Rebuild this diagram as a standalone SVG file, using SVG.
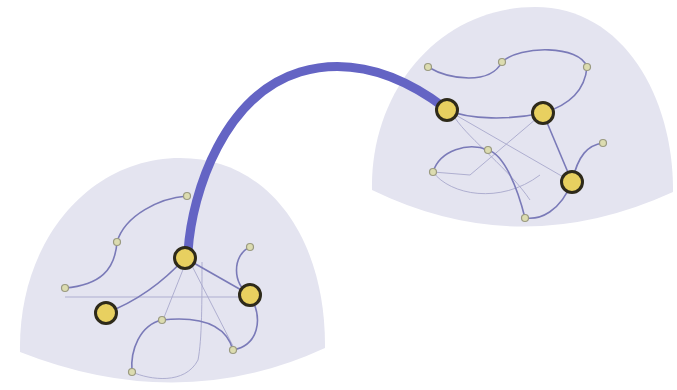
<svg xmlns="http://www.w3.org/2000/svg" width="677" height="390" viewBox="0 0 677 390">
<style>
.dome{fill:#e4e4f0;stroke:none}
.e{fill:none;stroke:#7a7ab8;stroke-width:1.6}
.t{fill:none;stroke:#a8a8cc;stroke-width:0.9}
.big{fill:#e8d060;stroke:#2e2a1a;stroke-width:3}
.sm{fill:#dcdcb0;stroke:#9a9a80;stroke-width:1.2}
.bridge{fill:none;stroke:#6464c4;stroke-width:9;stroke-linecap:round}
</style>
<rect width="677" height="390" fill="#ffffff"/>
<g id="dome-left"><path class="dome" d="M20 352 C18 240 90 158 180 158 C270 158 326 240 325 348 Q180 415 20 352 Z"/></g>
<g id="dome-right"><path class="dome" d="M372 190 C370 90 440 7 535 7 C625 7 674 100 673 192 Q520 262 372 190 Z"/></g>
<g id="connectors">
<path class="t" d="M65 297 L250 297"/>
<path class="t" d="M186 262 L163 320"/>
<path class="t" d="M202 262 C202 300 202 340 198 360 C185 385 150 380 132 372"/>
<path class="t" d="M190 262 L235 350"/>
<path class="e" d="M65 288 C100 285 115 270 117 242 C125 215 160 198 187 196"/>
<path class="e" d="M106 313 C140 300 165 280 185 258"/>
<path class="e" d="M185 258 L250 295"/>
<path class="e" d="M250 247 C232 255 232 285 250 295"/>
<path class="e" d="M250 295 C264 320 258 345 233 350"/>
<path class="e" d="M162 320 C200 316 226 325 233 350"/>
<path class="e" d="M162 320 C140 325 130 350 132 372"/>
<path class="t" d="M447 110 L572 182"/>
<path class="t" d="M543 113 L470 175 L433 172"/>
<path class="t" d="M455 118 C470 140 510 170 530 200"/>
<path class="t" d="M433 172 C450 195 500 205 540 175"/>
<path class="e" d="M428 67 C450 80 490 85 502 62"/>
<path class="e" d="M502 62 C520 45 580 45 587 67"/>
<path class="e" d="M587 67 C585 90 570 105 543 113"/>
<path class="e" d="M447 110 C470 120 510 120 543 113"/>
<path class="e" d="M543 113 L572 182"/>
<path class="e" d="M603 143 C588 145 578 155 572 182"/>
<path class="e" d="M572 182 C560 212 540 220 525 218"/>
<path class="e" d="M525 218 C518 190 505 155 488 150 C468 142 440 150 433 172"/>
<path class="bridge" d="M188 252 C192 190 225 95 300 72 C355 56 405 78 445 108"/>
</g>
<g id="node-l1"><circle class="big" cx="185" cy="258" r="10.5"/></g>
<g id="node-l2"><circle class="big" cx="106" cy="313" r="10.5"/></g>
<g id="node-l3"><circle class="big" cx="250" cy="295" r="10.5"/></g>
<g id="node-l4"><circle class="sm" cx="187" cy="196" r="3.5"/></g>
<g id="node-l5"><circle class="sm" cx="117" cy="242" r="3.5"/></g>
<g id="node-l6"><circle class="sm" cx="65" cy="288" r="3.5"/></g>
<g id="node-l7"><circle class="sm" cx="250" cy="247" r="3.5"/></g>
<g id="node-l8"><circle class="sm" cx="162" cy="320" r="3.5"/></g>
<g id="node-l9"><circle class="sm" cx="233" cy="350" r="3.5"/></g>
<g id="node-l10"><circle class="sm" cx="132" cy="372" r="3.5"/></g>
<g id="node-r1"><circle class="big" cx="447" cy="110" r="10.5"/></g>
<g id="node-r2"><circle class="big" cx="543" cy="113" r="10.5"/></g>
<g id="node-r3"><circle class="big" cx="572" cy="182" r="10.5"/></g>
<g id="node-r4"><circle class="sm" cx="428" cy="67" r="3.5"/></g>
<g id="node-r5"><circle class="sm" cx="502" cy="62" r="3.5"/></g>
<g id="node-r6"><circle class="sm" cx="587" cy="67" r="3.5"/></g>
<g id="node-r7"><circle class="sm" cx="603" cy="143" r="3.5"/></g>
<g id="node-r8"><circle class="sm" cx="433" cy="172" r="3.5"/></g>
<g id="node-r9"><circle class="sm" cx="488" cy="150" r="3.5"/></g>
<g id="node-r10"><circle class="sm" cx="525" cy="218" r="3.5"/></g>
</svg>
